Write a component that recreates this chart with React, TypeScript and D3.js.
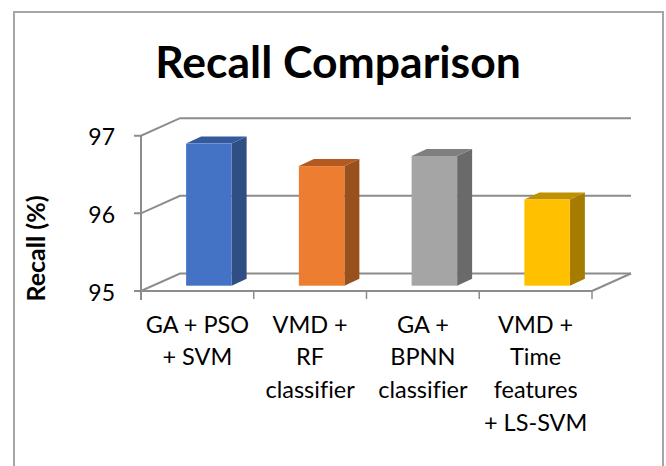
import React from "react";
import * as d3 from "d3";

// --- Data ---
const CATEGORIES = [
  ["GA + PSO", "+ SVM"],
  ["VMD +", "RF", "classifier"],
  ["GA +", "BPNN", "classifier"],
  ["VMD +", "Time", "features", "+ LS-SVM"],
];
const RECALL = [96.83, 96.54, 96.67, 96.11];
const TICKS = [95, 96, 97];
const FRONT = ["#4472c4", "#ed7d31", "#a5a5a5", "#ffc000"];
const SIDE = ["#2f4e84", "#98501c", "#6a6a6a", "#a67c00"];
const TOP = ["#335a9d", "#b35a20", "#7f7f7f", "#bf9000"];

// --- Layout ---
const W = 666;
const H = 466;
const FONT = "Lato, 'Open Sans', sans-serif";
const WALL_DX = 39; // how far the back wall is shifted from the front plane
const WALL_DY = -17.5;
const BAR_DX = 15;
const BAR_DY = -7;
const BAR_W = 45.5;
const BASE_SHIFT = -5.3; // bars stand a bit behind the front edge
const AXIS = "#8c8c8c";

export default function App() {
  const y = d3.scaleLinear().domain([95, 97]).range([291, 135.7]);
  const x = d3
    .scaleBand<number>()
    .domain(d3.range(CATEGORIES.length))
    .range([141, 592]);

  const band = x.bandwidth();
  const baseY = y(95) + BASE_SHIFT;

  return (
    <svg
      width={W}
      height={H}
      style={{
        position: "absolute",
        left: 0,
        top: 0,
        background: "#fff",
        fontVariantLigatures: "none",
      }}
      fontFamily={FONT}
    >
      {/* frame runs off the bottom of the picture */}
      <rect x={14} y={12} width={649} height={470} fill="#fff" stroke="#a6a6a6" strokeWidth={2} />

      <text x={338} y={78} textAnchor="middle" fontSize={44.5} fontWeight={700} fill="#000">
        Recall Comparison
      </text>

      {/* back wall grid + side wall */}
      {TICKS.map((t) => (
        <g key={t} stroke={AXIS} strokeWidth={2} fill="none">
          <polyline
            points={`134,${y(t)} 141,${y(t)} ${141 + WALL_DX},${y(t) + WALL_DY} ${592 + WALL_DX},${y(t) + WALL_DY}`}
          />
        </g>
      ))}
      <line x1={592} y1={y(95)} x2={592 + WALL_DX} y2={y(95) + WALL_DY} stroke={AXIS} strokeWidth={2} />

      {/* axes */}
      <line x1={141} y1={y(97)} x2={141} y2={y(95) + 9} stroke={AXIS} strokeWidth={2} />
      <line x1={141} y1={y(95)} x2={592} y2={y(95)} stroke={AXIS} strokeWidth={2} />
      {d3.range(1, CATEGORIES.length + 1).map((i) => (
        <line
          key={i}
          x1={141 + i * band}
          y1={y(95)}
          x2={141 + i * band}
          y2={y(95) + 8}
          stroke={AXIS}
          strokeWidth={1.5}
        />
      ))}

      {/* bars */}
      {RECALL.map((v, i) => {
        const x0 = (x(i) as number) + band / 2 + 12 - (BAR_W + BAR_DX) / 2 + 7.5 - 0.5;
        const x1 = x0 + BAR_W;
        const top = y(v) + BASE_SHIFT;
        return (
          <g key={i}>
            <polygon
              points={`${x1},${top} ${x1 + BAR_DX},${top + BAR_DY} ${x1 + BAR_DX},${baseY + BAR_DY} ${x1},${baseY}`}
              fill={SIDE[i]}
            />
            <polygon
              points={`${x0},${top} ${x0 + BAR_DX},${top + BAR_DY} ${x1 + BAR_DX},${top + BAR_DY} ${x1},${top}`}
              fill={TOP[i]}
            />
            <rect x={x0} y={top} width={BAR_W} height={baseY - top} fill={FRONT[i]} />
          </g>
        );
      })}

      {/* y tick labels */}
      {TICKS.map((t) => (
        <text key={t} x={115} y={y(t) + 9.5} textAnchor="end" fontSize={23} fill="#000">
          {t}
        </text>
      ))}
      <text
        transform="translate(45,248.5) rotate(-90)"
        textAnchor="middle"
        fontSize={25}
        fontWeight={700}
        fill="#000"
      >
        Recall (%)
      </text>

      {/* category labels */}
      {CATEGORIES.map((lines, i) => (
        <text key={i} textAnchor="middle" fontSize={23.5} fill="#000">
          {lines.map((l, j) => (
            <tspan key={j} x={(x(i) as number) + band / 2} y={332.7 + j * 32.7}>
              {l}
            </tspan>
          ))}
        </text>
      ))}
    </svg>
  );
}
